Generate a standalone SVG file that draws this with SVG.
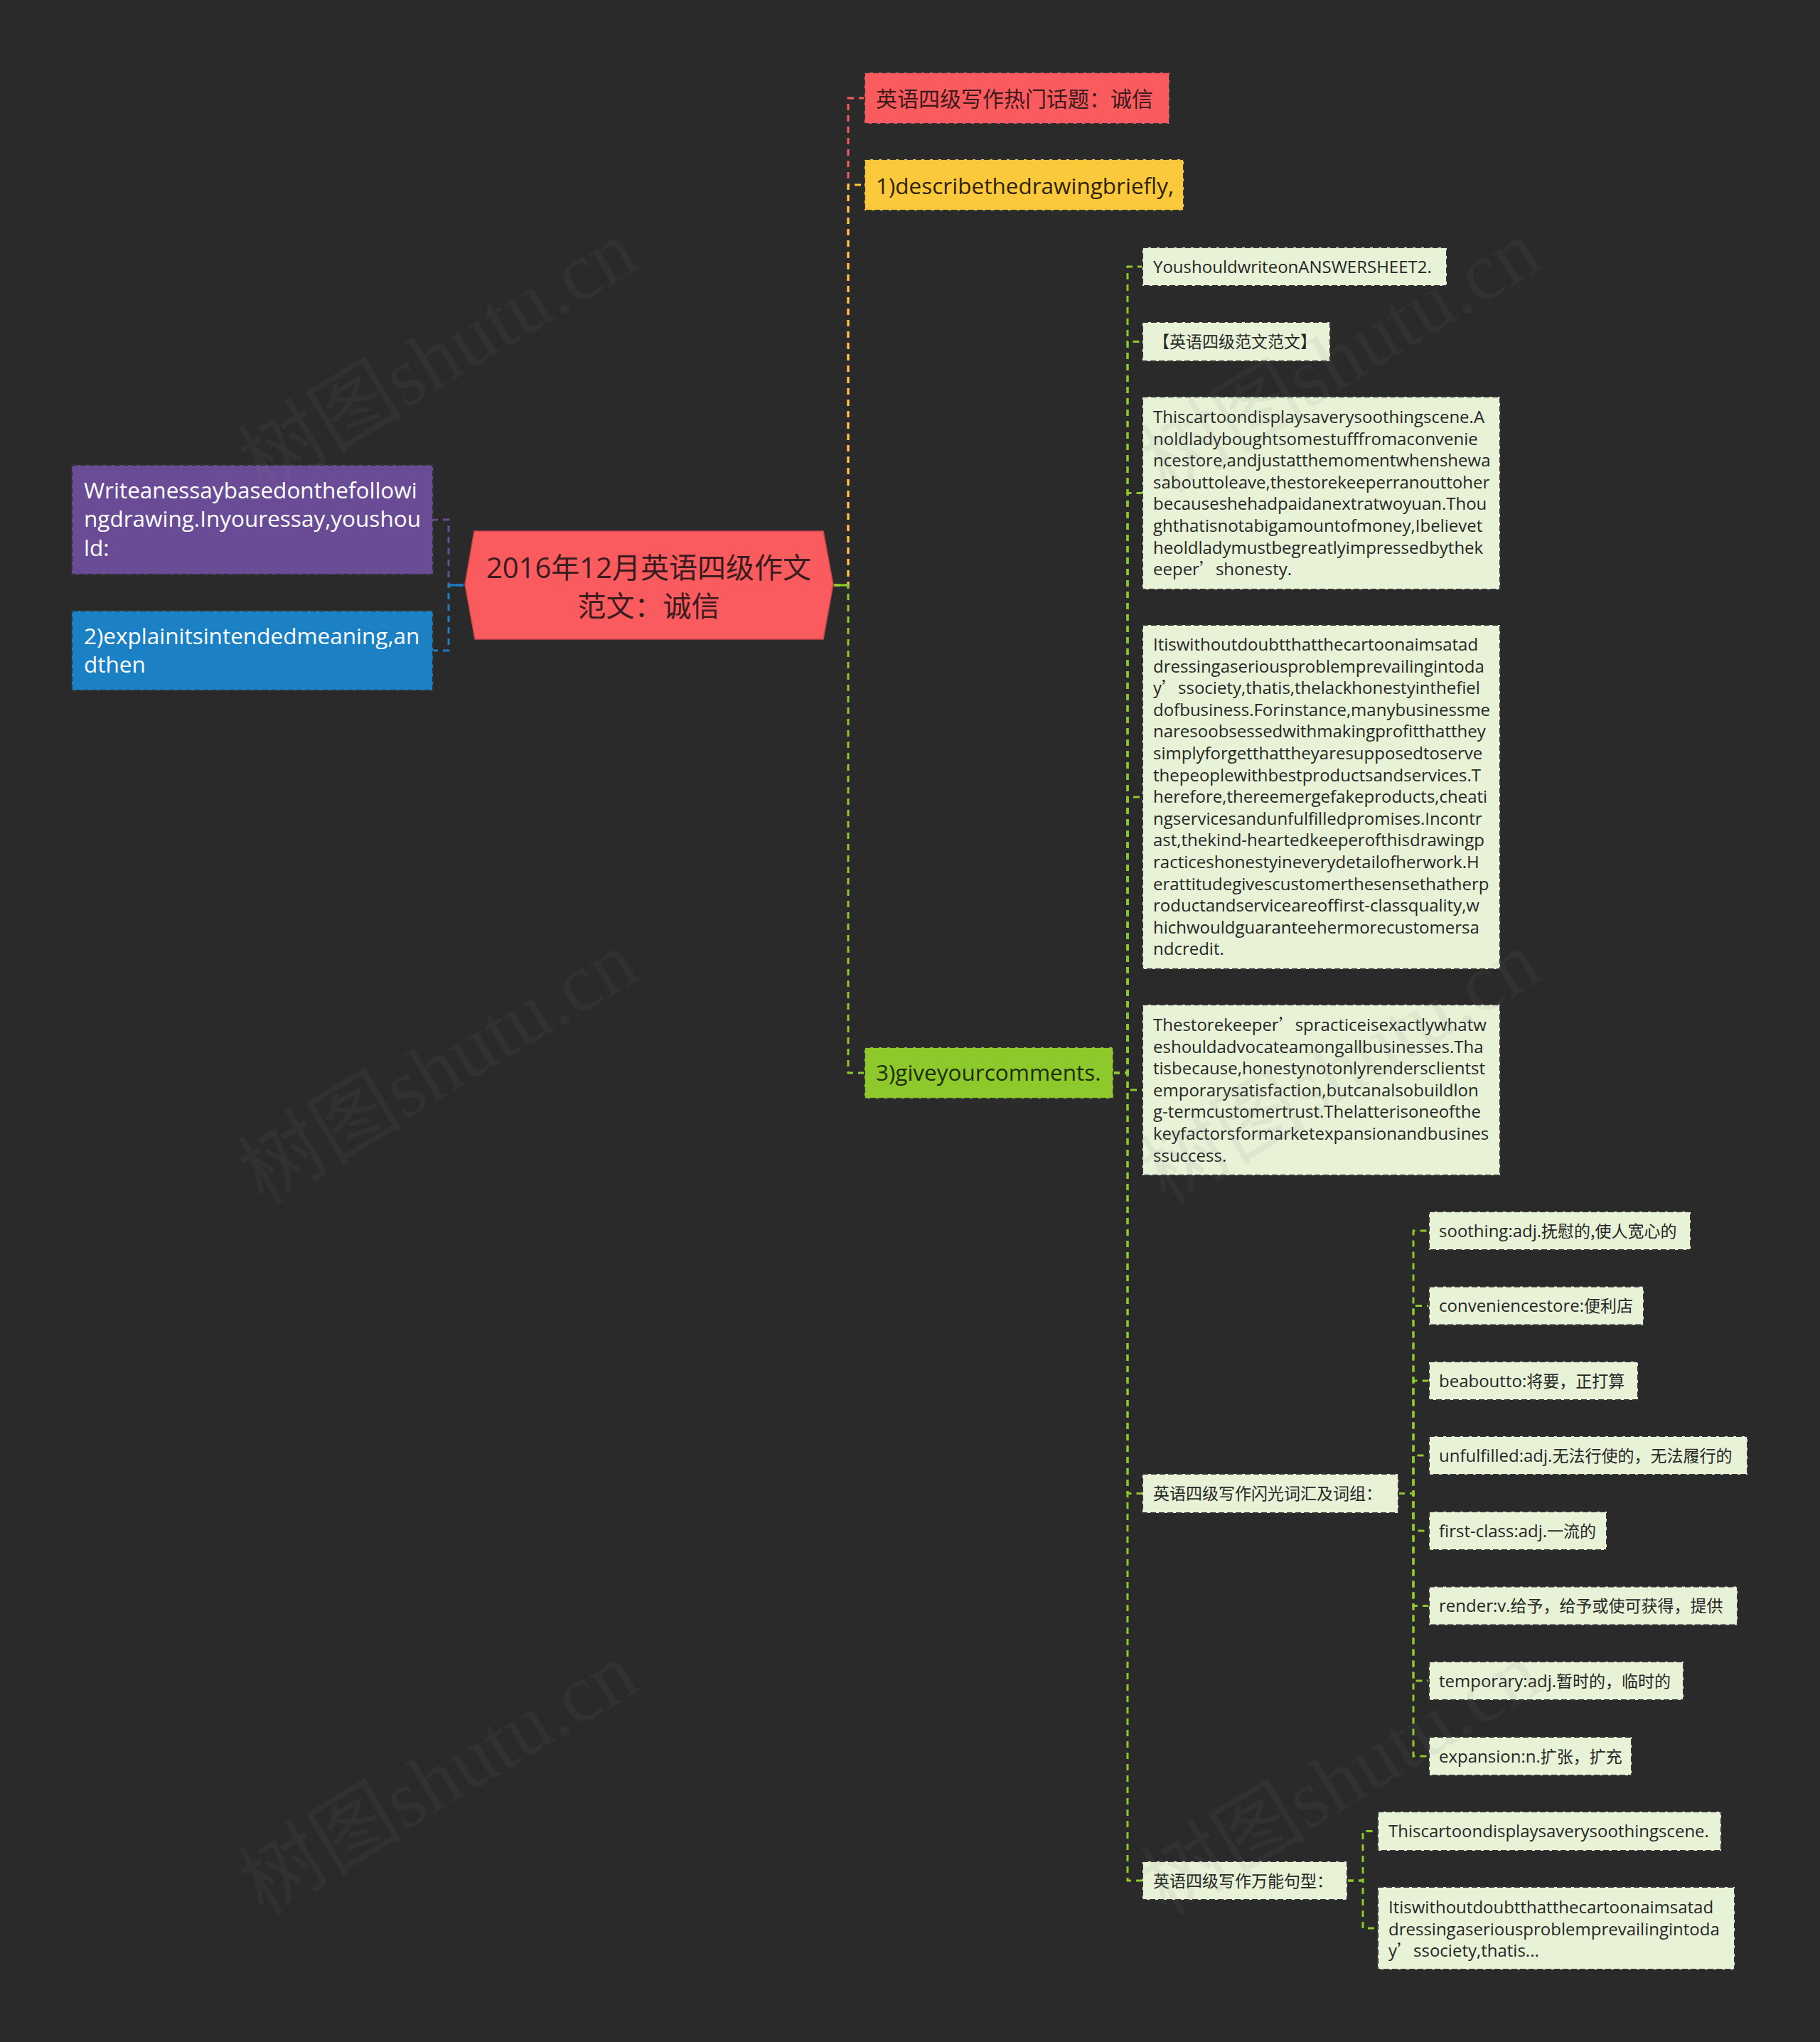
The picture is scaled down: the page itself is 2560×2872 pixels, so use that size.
<svg xmlns="http://www.w3.org/2000/svg" width="2560" height="2872" viewBox="0 0 2560 2872">
<style>
.t{font-family:'Open Sans','Noto Sans CJK SC',sans-serif}
.c{fill:none;stroke-width:3;stroke-dasharray:9 7}
.box{stroke:#333;stroke-width:2;stroke-dasharray:8 4}
.lg{fill:#E8F2D7}
.lt{fill:#262626;font-size:24px}
.cj{font-family:'Noto Sans CJK SC',sans-serif;font-size:23px}
.l1{font-size:31.5px}
.wm{font-family:'Liberation Serif','Noto Sans CJK SC',serif;font-size:116px;fill:#777777;opacity:0.1}
</style>
<rect width="2560" height="2872" fill="#2a2a2a"/>

<g id="connectors">
  <path class="c" stroke="#6A4C96" d="M652 823 H631 V731 H609"/>
  <path class="c" stroke="#1B80C4" d="M652 823 H631 V915 H609"/>
  <path d="M652 823 H631" stroke="#1B80C4" stroke-width="3"/>
  <path class="c" stroke="#F95B5E" d="M1173 823 H1193 V138 H1216"/>
  <path class="c" stroke="#FCC83C" d="M1173 823 H1193 V260 H1216"/>
  <path class="c" stroke="#8DC92B" d="M1173 823 H1193 V1509 H1216"/>
  <path d="M1173 823 H1193" stroke="#8DC92B" stroke-width="3"/>
  <g stroke="#8DC92B">
    <path class="c" d="M1566 1509 H1586 V375 H1607"/>
    <path class="c" d="M1566 1509 H1586 V480.5 H1607"/>
    <path class="c" d="M1566 1509 H1586 V693.5 H1607"/>
    <path class="c" d="M1566 1509 H1586 V1121 H1607"/>
    <path class="c" d="M1566 1509 H1586 V1533 H1607"/>
    <path class="c" d="M1566 1509 H1586 V2100.5 H1607"/>
    <path class="c" d="M1566 1509 H1586 V2645 H1607"/>
    <path class="c" d="M1967 2100.5 H1988 V1731 H2010"/>
    <path class="c" d="M1967 2100.5 H1988 V1836.5 H2010"/>
    <path class="c" d="M1967 2100.5 H1988 V1942 H2010"/>
    <path class="c" d="M1967 2100.5 H1988 V2047 H2010"/>
    <path class="c" d="M1967 2100.5 H1988 V2153 H2010"/>
    <path class="c" d="M1967 2100.5 H1988 V2258.5 H2010"/>
    <path class="c" d="M1967 2100.5 H1988 V2364 H2010"/>
    <path class="c" d="M1967 2100.5 H1988 V2470 H2010"/>
    <path class="c" d="M1895 2645 H1917 V2575.5 H1938"/>
    <path class="c" d="M1895 2645 H1917 V2712 H1938"/>
  </g>
</g>

<g id="root">
  <polygon points="654,822 667,747 1158,747 1172,822 1158,899 668,899" fill="#F95B5E" stroke="#c9474b" stroke-width="1.5"/>
  <text class="t" x="912.5" y="812.5" text-anchor="middle" font-size="40" fill="#3a1c1e">2016年12月英语四级作文</text>
  <text class="t" x="912.5" y="867" text-anchor="middle" font-size="40" fill="#3a1c1e">范文：诚信</text>
</g>

<g id="n-write">
  <rect class="box" x="101" y="654" width="508" height="154" fill="#6A4C96"/>
  <text class="t l1" fill="#ffffff"><tspan x="118" y="700.7">Writeanessaybasedonthefollowi</tspan><tspan x="118" y="741.2">ngdrawing.Inyouressay,youshou</tspan><tspan x="118" y="781.7">ld:</tspan></text>
</g>
<g id="n-explain">
  <rect class="box" x="101" y="859" width="508" height="112" fill="#1B80C4"/>
  <text class="t l1" fill="#ffffff"><tspan x="118" y="906">2)explainitsintendedmeaning,an</tspan><tspan x="118" y="946">dthen</tspan></text>
</g>

<g id="n-topic">
  <rect class="box" x="1216" y="102" width="429" height="72" fill="#F95B5E"/>
  <text class="t" x="1232" y="150" font-size="30" fill="#3c1a1c">英语四级写作热门话题：诚信</text>
</g>
<g id="n-describe">
  <rect class="box" x="1216" y="224" width="449" height="72" fill="#FCC83C"/>
  <text class="t l1" x="1232" y="273" fill="#2e2400">1)describethedrawingbriefly,</text>
</g>
<g id="n-comments">
  <rect class="box" x="1216" y="1473" width="350" height="72" fill="#8DC92B"/>
  <text class="t l1" x="1232" y="1520" fill="#1f2d05">3)giveyourcomments.</text>
</g>

<g id="n-sheet">
  <rect class="box lg" x="1607" y="348" width="428" height="54"/>
  <text class="t lt" x="1622" y="383.5">YoushouldwriteonANSWERSHEET2.</text>
</g>
<g id="n-sample">
  <rect class="box lg" x="1607" y="453" width="264" height="55"/>
  <text class="t lt cj" x="1622" y="489">【英语四级范文范文】</text>
</g>
<g id="n-para1">
  <rect class="box lg" x="1607" y="558" width="503" height="271"/>
  <text class="t lt">
    <tspan x="1622" y="595">Thiscartoondisplaysaverysoothingscene.A</tspan>
    <tspan x="1622" dy="30.6">noldladyboughtsomestufffromaconvenie</tspan>
    <tspan x="1622" dy="30.6">ncestore,andjustatthemomentwhenshewa</tspan>
    <tspan x="1622" dy="30.6">sabouttoleave,thestorekeeperranouttoher</tspan>
    <tspan x="1622" dy="30.6">becauseshehadpaidanextratwoyuan.Thou</tspan>
    <tspan x="1622" dy="30.6">ghthatisnotabigamountofmoney,Ibelievet</tspan>
    <tspan x="1622" dy="30.6">heoldladymustbegreatlyimpressedbythek</tspan>
    <tspan x="1622" dy="30.6">eeper<tspan class="cj">’</tspan>shonesty.</tspan>
  </text>
</g>
<g id="n-para2">
  <rect class="box lg" x="1607" y="879" width="503" height="484"/>
  <text class="t lt">
    <tspan x="1622" y="915">Itiswithoutdoubtthatthecartoonaimsatad</tspan>
    <tspan x="1622" dy="30.6">dressingaseriousproblemprevailingintoda</tspan>
    <tspan x="1622" dy="30.6">y<tspan class="cj">’</tspan>ssociety,thatis,thelackhonestyinthefiel</tspan>
    <tspan x="1622" dy="30.6">dofbusiness.Forinstance,manybusinessme</tspan>
    <tspan x="1622" dy="30.6">naresoobsessedwithmakingprofitthatthey</tspan>
    <tspan x="1622" dy="30.6">simplyforgetthattheyaresupposedtoserve</tspan>
    <tspan x="1622" dy="30.6">thepeoplewithbestproductsandservices.T</tspan>
    <tspan x="1622" dy="30.6">herefore,thereemergefakeproducts,cheati</tspan>
    <tspan x="1622" dy="30.6">ngservicesandunfulfilledpromises.Incontr</tspan>
    <tspan x="1622" dy="30.6">ast,thekind-heartedkeeperofthisdrawingp</tspan>
    <tspan x="1622" dy="30.6">racticeshonestyineverydetailofherwork.H</tspan>
    <tspan x="1622" dy="30.6">erattitudegivescustomerthesensethatherp</tspan>
    <tspan x="1622" dy="30.6">roductandserviceareoffirst-classquality,w</tspan>
    <tspan x="1622" dy="30.6">hichwouldguaranteehermorecustomersa</tspan>
    <tspan x="1622" dy="30.6">ndcredit.</tspan>
  </text>
</g>
<g id="n-para3">
  <rect class="box lg" x="1607" y="1413" width="503" height="240"/>
  <text class="t lt">
    <tspan x="1622" y="1450">Thestorekeeper<tspan class="cj">’</tspan>spracticeisexactlywhatw</tspan>
    <tspan x="1622" dy="30.6">eshouldadvocateamongallbusinesses.Tha</tspan>
    <tspan x="1622" dy="30.6">tisbecause,honestynotonlyrendersclientst</tspan>
    <tspan x="1622" dy="30.6">emporarysatisfaction,butcanalsobuildlon</tspan>
    <tspan x="1622" dy="30.6">g-termcustomertrust.Thelatterisoneofthe</tspan>
    <tspan x="1622" dy="30.6">keyfactorsformarketexpansionandbusines</tspan>
    <tspan x="1622" dy="30.6">ssuccess.</tspan>
  </text>
</g>
<g id="n-vocab">
  <rect class="box lg" x="1607" y="2073" width="360" height="55"/>
  <text class="t lt cj" x="1622" y="2109">英语四级写作闪光词汇及词组：</text>
</g>
<g id="v-soothing">
  <rect class="box lg" x="2010" y="1704" width="368" height="54"/>
  <text class="t lt" x="2024" y="1739.5">soothing:adj.<tspan class="cj">抚慰的,使人宽心的</tspan></text>
</g>
<g id="v-convenience">
  <rect class="box lg" x="2010" y="1809.5" width="302" height="54"/>
  <text class="t lt" x="2024" y="1845">conveniencestore:<tspan class="cj">便利店</tspan></text>
</g>
<g id="v-beaboutto">
  <rect class="box lg" x="2010" y="1915" width="294" height="54"/>
  <text class="t lt" x="2024" y="1950.5">beaboutto:<tspan class="cj">将要，正打算</tspan></text>
</g>
<g id="v-unfulfilled">
  <rect class="box lg" x="2010" y="2020" width="448" height="54"/>
  <text class="t lt" x="2024" y="2055.5">unfulfilled:adj.<tspan class="cj">无法行使的，无法履行的</tspan></text>
</g>
<g id="v-firstclass">
  <rect class="box lg" x="2010" y="2126" width="250" height="54"/>
  <text class="t lt" x="2024" y="2161.5">first-class:adj.<tspan class="cj">一流的</tspan></text>
</g>
<g id="v-render">
  <rect class="box lg" x="2010" y="2231.5" width="434" height="54"/>
  <text class="t lt" x="2024" y="2267">render:v.<tspan class="cj">给予，给予或使可获得，提供</tspan></text>
</g>
<g id="v-temporary">
  <rect class="box lg" x="2010" y="2337" width="358" height="54"/>
  <text class="t lt" x="2024" y="2372.5">temporary:adj.<tspan class="cj">暂时的，临时的</tspan></text>
</g>
<g id="v-expansion">
  <rect class="box lg" x="2010" y="2443" width="285" height="54"/>
  <text class="t lt" x="2024" y="2478.5">expansion:n.<tspan class="cj">扩张，扩充</tspan></text>
</g>
<g id="n-sentences">
  <rect class="box lg" x="1607" y="2618" width="288" height="54"/>
  <text class="t lt cj" x="1622" y="2653.5">英语四级写作万能句型：</text>
</g>
<g id="s-1">
  <rect class="box lg" x="1938" y="2548" width="483" height="55"/>
  <text class="t lt" x="1953" y="2584">Thiscartoondisplaysaverysoothingscene.</text>
</g>
<g id="s-2">
  <rect class="box lg" x="1938" y="2654" width="502" height="116"/>
  <text class="t lt">
    <tspan x="1953" y="2691">Itiswithoutdoubtthatthecartoonaimsatad</tspan>
    <tspan x="1953" dy="30.6">dressingaseriousproblemprevailingintoda</tspan>
    <tspan x="1953" dy="30.6">y<tspan class="cj">’</tspan>ssociety,thatis...</tspan>
  </text>
</g>

<g id="watermark" class="wm">
  <text transform="translate(370,695) rotate(-31)">树图shutu.cn</text>
  <text transform="translate(370,1695) rotate(-31)">树图shutu.cn</text>
  <text transform="translate(370,2695) rotate(-31)">树图shutu.cn</text>
  <text transform="translate(1640,695) rotate(-31)">树图shutu.cn</text>
  <text transform="translate(1640,1695) rotate(-31)">树图shutu.cn</text>
  <text transform="translate(1640,2695) rotate(-31)">树图shutu.cn</text>
</g>
</svg>
